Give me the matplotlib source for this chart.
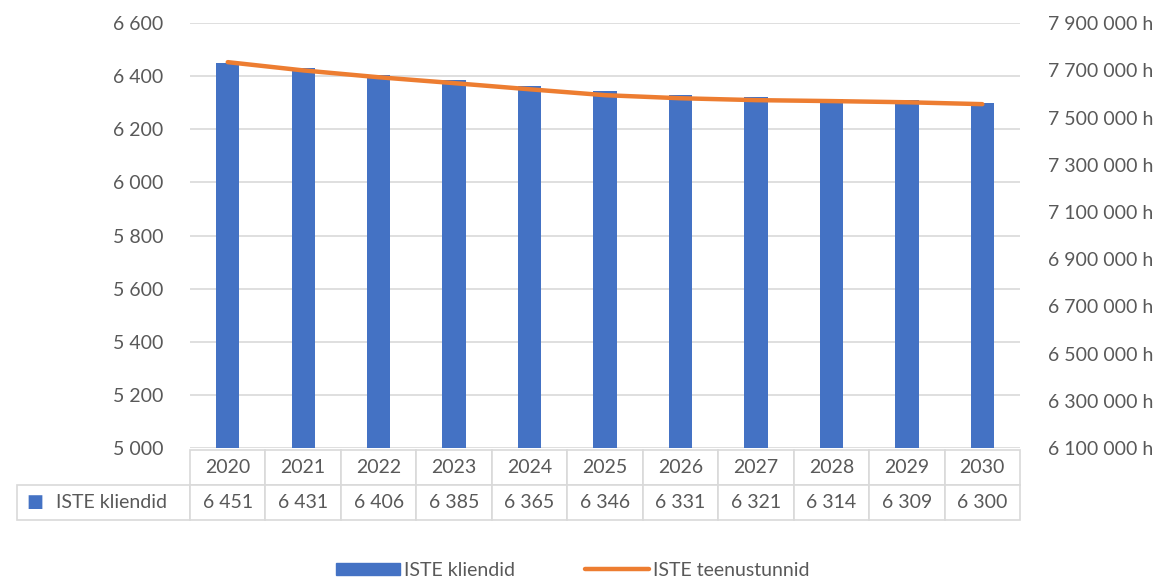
import matplotlib.pyplot as plt
from matplotlib.ticker import FuncFormatter, MultipleLocator
from matplotlib.lines import Line2D
from matplotlib.patches import Patch

plt.rcParams['font.family'] = ['Lato', 'DejaVu Sans']

years = ['2020', '2021', '2022', '2023', '2024', '2025', '2026', '2027', '2028', '2029', '2030']
kliendid = [6451, 6431, 6406, 6385, 6365, 6346, 6331, 6321, 6314, 6309, 6300]
teenustunnid = [7735000, 7700000, 7671000, 7646000, 7620000, 7595000,
                7582000, 7574000, 7570000, 7565000, 7557000]
right_ticks = list(range(6100000, 7900001, 200000))

blue = '#4472C4'
orange = '#ED7D31'
grey = '#595959'
grid_c = '#D9D9D9'
fs = 14


def spaced(v, pos=None):
    return '{:,}'.format(int(v)).replace(',', ' ')


fig = plt.figure(figsize=(11.73, 5.80), dpi=100)
ax = fig.add_axes([0.162, 0.2276, 0.7076, 0.7324])
x = range(len(years))

ax.bar(x, kliendid, width=0.31, color=blue, zorder=2)
ax.set_ylim(5000, 6600)
ax.set_xlim(-0.5, len(years) - 0.5)
ax.yaxis.set_major_locator(MultipleLocator(200))
ax.yaxis.set_major_formatter(FuncFormatter(spaced))
ax.grid(axis='y', color=grid_c, linewidth=1.2, zorder=0)
ax.set_xticks([])
ax.tick_params(axis='y', length=0, pad=19, labelsize=fs, labelcolor=grey)
for s in ax.spines.values():
    s.set_visible(False)

ax2 = ax.twinx()
ax2.plot(x, teenustunnid, color=orange, linewidth=3.2, solid_capstyle='round', zorder=3)
ax2.set_ylim(6100000, 7900000)
ax2.set_yticks(right_ticks)
ax2.yaxis.set_major_formatter(FuncFormatter(lambda v, p: spaced(v) + ' h'))
ax2.tick_params(axis='y', length=0, pad=20, labelsize=fs, labelcolor=grey)
for s in ax2.spines.values():
    s.set_visible(False)

# data table under the chart
cell_text = [[''] + years, ['ISTE kliendid'] + [spaced(v) for v in kliendid]]
col_w = [173] + [75.5] * len(years)
col_w = [w / sum(col_w) for w in col_w]
tbl = ax.table(cellText=cell_text, colWidths=col_w, cellLoc='center',
               bbox=[-0.2084, -0.1694, 1.2084, 0.1647])
tbl.auto_set_font_size(False)
for (r, c), cell in tbl.get_celld().items():
    cell.set_edgecolor(grid_c)
    cell.set_linewidth(1.2)
    cell.get_text().set_color(grey)
    cell.get_text().set_fontsize(fs)
    if r == 0 and c == 0:
        cell.set_edgecolor('white')
        cell.set_linewidth(0)
    if r == 1 and c == 0:
        cell.get_text().set_text('   ISTE kliendid')
ax.text(-0.1975, -0.1694 + 0.1647 / 4, '\u25A0', transform=ax.transAxes,
        color=blue, fontsize=13, ha='left', va='center', family='DejaVu Sans')

handles = [Patch(facecolor=blue, edgecolor=blue),
           Line2D([0], [0], color=orange, linewidth=3.2, solid_capstyle='round')]
fig.legend(handles, ['ISTE kliendid', 'ISTE teenustunnid'], loc='center',
           bbox_to_anchor=(0.488, 0.017), ncol=2, frameon=False, fontsize=fs,
           labelcolor=grey, handlelength=3.3, handleheight=0.6, columnspacing=3.6,
           handletextpad=0.2)

fig.savefig('out.png', dpi=100)
